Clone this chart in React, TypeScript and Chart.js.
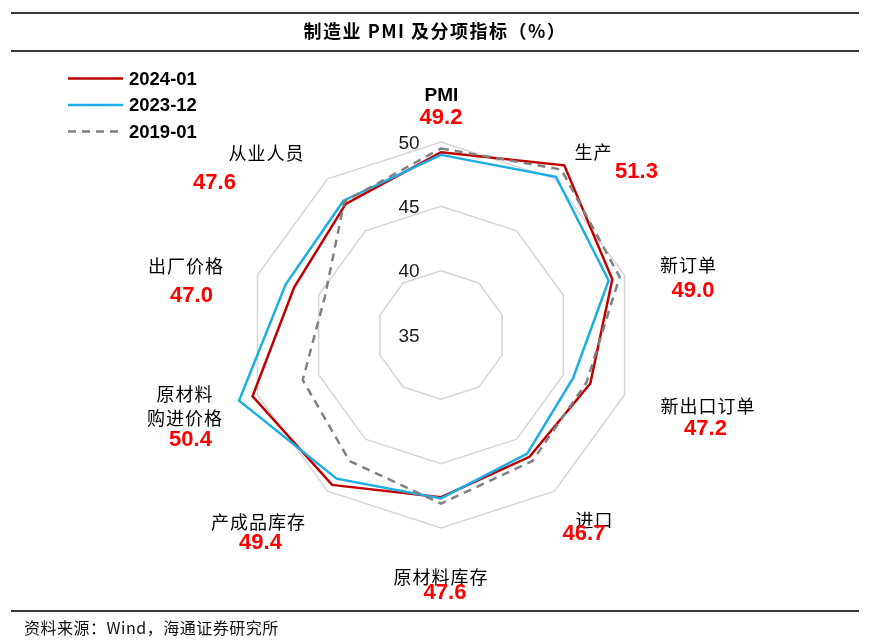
import React, { useEffect, useRef } from 'react';
import { Chart, registerables } from 'chart.js';

Chart.register(...registerables);

// ---------- data ----------
const categories = ['PMI', '生产', '新订单', '新出口订单', '进口', '原材料库存', '产成品库存', '原材料购进价格', '出厂价格', '从业人员'];
const categoryLabelLines = [['PMI'], ['生产'], ['新订单'], ['新出口订单'], ['进口'], ['原材料库存'], ['产成品库存'], ['原材料', '购进价格'], ['出厂价格'], ['从业人员']];
const seriesNames = ['2024-01', '2023-12', '2019-01'];
const values202401 = [49.2, 51.3, 49.0, 47.2, 46.7, 47.6, 49.4, 50.4, 47.0, 47.6];
const values202312 = [49.0, 50.2, 48.7, 45.8, 46.4, 47.7, 48.8, 51.5, 47.7, 47.9];
const values201901 = [49.5, 50.9, 49.6, 46.9, 47.1, 48.1, 47.1, 46.3, 44.5, 47.8];
const tickValues = [35, 40, 45, 50];
const titleText = '制造业 PMI 及分项指标（%）';
const sourceText = '资料来源：Wind，海通证券研究所';

// ---------- layout (offsets of label centres from the radar centre) ----------
const nameOffsets: [number, number][] = [
  [0.5, -239.5], [152, -183], [247, -70], [266.5, 71], [153, 185],
  [-0.5, 242], [-183, 186.7], [-256.5, 59], [-255.5, -69], [-175, -182.3],
];
const valueOffsets: [number, number][] = [
  [0, -217], [195.5, -163.3], [252, -44.3], [264.5, 94], [143, 199],
  [4, 258], [-180.5, 208], [-250.5, 104.5], [-249.5, -39.3], [-226.5, -152],
];

const COLORS = ['#c00000', '#1aaee5', '#808080'];
const DASHES: number[][] = [[], [], [8, 6]];

const overlayPlugin = {
  id: 'overlay',
  beforeDraw(chart: any) {
    const ctx = chart.ctx;
    ctx.save();
    ctx.fillStyle = '#ffffff';
    ctx.fillRect(0, 0, chart.width, chart.height);
    ctx.restore();
  },
  afterDraw(chart: any) {
    const ctx = chart.ctx;
    const scale = chart.scales.r;
    const cx = scale.xCenter;
    const cy = scale.yCenter;
    ctx.save();

    // rules
    ctx.strokeStyle = '#3a3a3a';
    ctx.lineWidth = 2;
    [13, 51, 611].forEach((y) => {
      ctx.beginPath();
      ctx.moveTo(11, y);
      ctx.lineTo(859, y);
      ctx.stroke();
    });

    // title
    ctx.fillStyle = '#000';
    ctx.textAlign = 'center';
    ctx.textBaseline = 'middle';
    ctx.font = 'bold 18px "Noto Sans CJK SC"';
    ctx.letterSpacing = '1.5px';
    ctx.fillText(titleText, 435, 31);

    // source
    ctx.textAlign = 'left';
    ctx.font = '16px "Noto Sans CJK SC"';
    ctx.letterSpacing = '0.5px';
    ctx.fillStyle = '#111';
    ctx.fillText(sourceText, 24, 628);
    ctx.letterSpacing = '0px';

    // legend
    seriesNames.forEach((name, i) => {
      const y = 78.5 + i * 26.5;
      ctx.strokeStyle = COLORS[i];
      ctx.lineWidth = 2.5;
      ctx.setLineDash(DASHES[i]);
      ctx.beginPath();
      ctx.moveTo(68, y);
      ctx.lineTo(123, y);
      ctx.stroke();
      ctx.setLineDash([]);
      ctx.fillStyle = '#000';
      ctx.font = 'bold 18.5px "Liberation Sans"';
      ctx.textAlign = 'left';
      ctx.fillText(name, 129, y + 1);
    });

    // tick labels
    ctx.font = '19px "Liberation Sans"';
    ctx.fillStyle = '#1a1a1a';
    ctx.textAlign = 'center';
    tickValues.forEach((v) => {
      const d = scale.getDistanceFromCenterForValue(v);
      ctx.fillText(String(v), cx - 32, cy - d + 1.5);
    });

    // category labels + values
    categories.forEach((_c, i) => {
      const lines = categoryLabelLines[i];
      const [nx, ny] = nameOffsets[i];
      ctx.textAlign = 'center';
      ctx.fillStyle = '#000';
      lines.forEach((line, k) => {
        const latin = /^[A-Za-z]+$/.test(line);
        ctx.font = latin ? 'bold 19px "Liberation Sans"' : '18px "Noto Sans CJK SC"';
        ctx.letterSpacing = latin ? '0px' : '1px';
        ctx.fillText(line, cx + nx + (latin ? 0 : 0.5), cy + ny + k * 24.5);
      });
      ctx.letterSpacing = '0px';
      const [vx, vy] = valueOffsets[i];
      ctx.font = 'bold 22px "Liberation Sans"';
      ctx.fillStyle = '#ff0000';
      ctx.fillText(values202401[i].toFixed(1), cx + vx, cy + vy);
    });

    ctx.restore();
  },
};

export default function App() {
  const canvasRef = useRef<HTMLCanvasElement | null>(null);

  useEffect(() => {
    if (!canvasRef.current) return;
    const seriesValues = [values202401, values202312, values201901];
    const chart = new Chart(canvasRef.current, {
      type: 'radar',
      data: {
        labels: categories,
        datasets: seriesNames.map((name, i) => ({
          label: name,
          data: seriesValues[i],
          borderColor: COLORS[i],
          backgroundColor: 'rgba(0,0,0,0)',
          borderWidth: 2.5,
          borderDash: DASHES[i],
          pointRadius: 0,
          pointHoverRadius: 0,
          fill: false,
          tension: 0,
          clip: false as any,
          order: 3 - i,
        })),
      },
      options: {
        responsive: false,
        devicePixelRatio: 1,
        animation: false,
        layout: { padding: { left: 248, right: 236, top: 142, bottom: 115 } },
        plugins: {
          legend: { display: false },
          title: { display: false },
          tooltip: { enabled: false },
        },
        scales: {
          r: {
            min: 35,
            max: 50,
            ticks: { stepSize: 5, display: false },
            grid: { color: '#d6d6d6', lineWidth: 1.5, circular: false },
            angleLines: { display: false },
            pointLabels: { display: false },
          },
        },
      },
      plugins: [overlayPlugin],
    });
    return () => chart.destroy();
  }, []);

  return (
    <div style={{ position: 'absolute', left: 0, top: 0, width: 870, height: 643 }}>
      <canvas ref={canvasRef} width={870} height={643} style={{ display: 'block' }} />
    </div>
  );
}
